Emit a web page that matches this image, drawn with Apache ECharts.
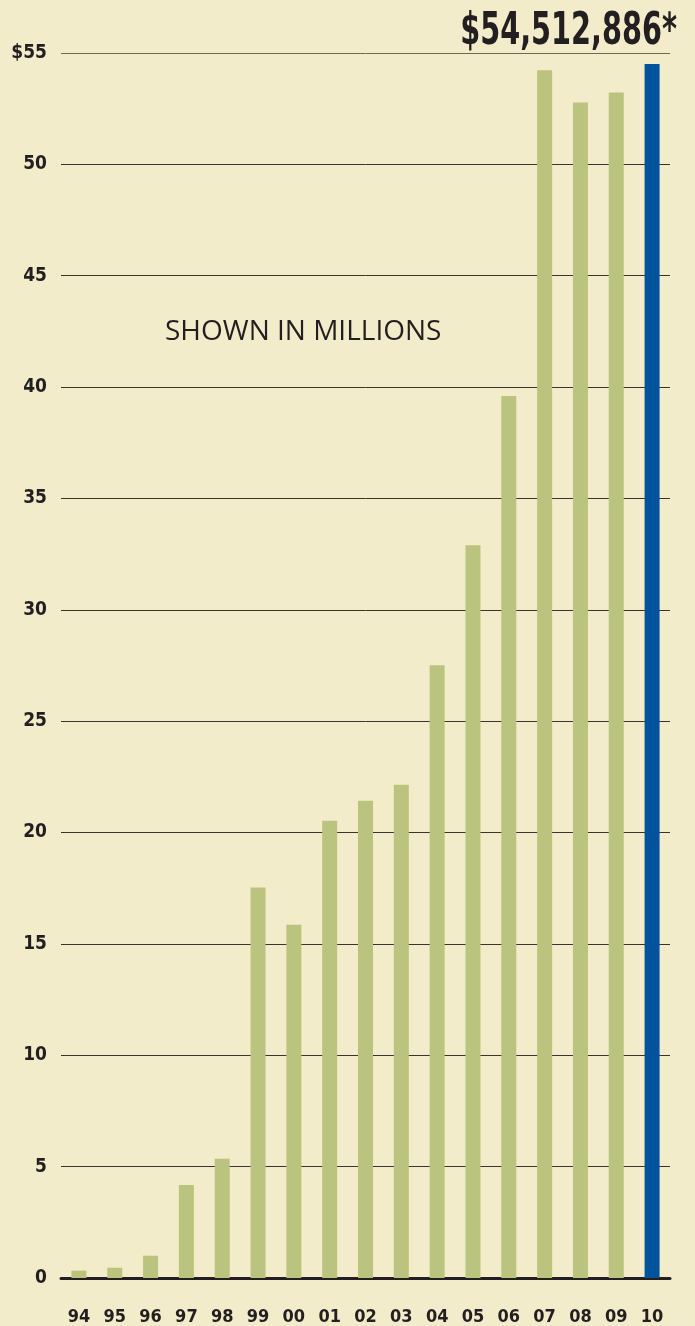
<!DOCTYPE html>
<html>
<head>
<meta charset="utf-8">
<script src="https://cdn.jsdelivr.net/npm/echarts@6/dist/echarts.min.js"></script>
<style>
	html, body { margin: 0; padding: 0; background: #f2ecca; }
	#main { width: 695px; height: 1326px; }
</style>
</head>
<body>
<div id="main"></div>
<script>
const years = ["94", "95", "96", "97", "98", "99", "00", "01", "02", "03", "04", "05", "06", "07", "08", "09", "10"];
// yearly totals, in millions
const totals = [0.33, 0.46, 1.0, 4.18, 5.35, 17.53, 15.86, 20.53, 21.43, 22.15, 27.51, 32.9, 39.6, 54.22, 52.78, 53.23, 54.51];
const yTicks = [0, 5, 10, 15, 20, 25, 30, 35, 40, 45, 50, 55];
const headline = "$54,512,886*";
const note = "SHOWN IN MILLIONS";

const green = "#bac47e";
const blue = "#02529c";
const ink = "#231f20";
const condensed = "'Liberation Sans Narrow', 'DejaVu Sans Condensed', sans-serif";

const chart = echarts.init(document.getElementById("main"));

const barData = totals.map((v, i) =>
	i === totals.length - 1 ? { value: v, itemStyle: { color: blue } } : v
);

const option = {
	backgroundColor: "#f2ecca",
	animation: false,
	grid: {
		left: 61,
		right: 25,
		top: 53,
		bottom: 48,
	},
	xAxis: {
		type: "category",
		data: years,
		axisTick: { show: false },
		axisLine: { lineStyle: { color: ink, width: 3 } },
		axisLabel: {
			margin: 30,
			color: ink,
			fontFamily: condensed,
			fontWeight: "bold",
			fontSize: 18,
		},
	},
	yAxis: {
		type: "value",
		min: yTicks[0],
		max: yTicks[yTicks.length - 1],
		interval: 5,
		axisLine: { show: false },
		axisTick: { show: false },
		axisLabel: {
			margin: 14,
			color: ink,
			fontFamily: condensed,
			fontWeight: "bold",
			fontSize: 19,
			formatter: (v) => (v === yTicks[yTicks.length - 1] ? "$" + v : String(v)),
		},
		splitLine: {
			lineStyle: {
				width: 1,
				color: yTicks.map((t, i) => (i === yTicks.length - 1 ? "#6e6858" : "#3a3430")),
			},
		},
	},
	graphic: [
		{
			// squeezed to match the condensed headline face
			type: "text",
			x: 677,
			y: 10,
			scaleX: 0.71,
			style: {
				text: headline,
				fill: ink,
				align: "right",
				verticalAlign: "top",
				font: "bold 45px " + condensed,
			},
		},
		{
			type: "text",
			left: 165,
			top: 318,
			style: {
				text: note,
				fill: ink,
				font: "28px 'Open Sans', sans-serif",
			},
		},
	],
	series: [
		{
			type: "bar",
			data: barData,
			barWidth: 15,
			itemStyle: { color: green },
		},
	],
};

chart.setOption(option);
</script>
</body>
</html>
